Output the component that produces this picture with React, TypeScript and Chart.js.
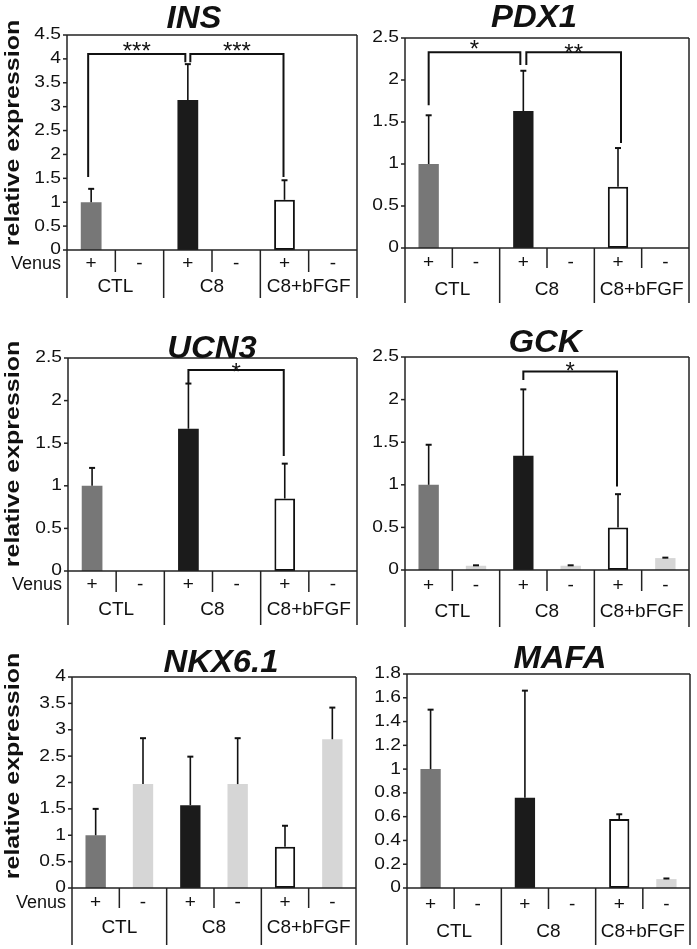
import React, { useEffect, useRef } from 'react';
import { Chart, registerables } from 'chart.js';
Chart.register(...registerables);

const W = 697;
const H = 949;
const FONT = '"Liberation Sans", Arial, Helvetica, sans-serif';
const INK = '#111111';
const LINE = '#222222';

// ---- shared categories ----
const SLOT_KEYS = ['CTL+', 'CTL-', 'C8+', 'C8-', 'bFGF+', 'bFGF-'];
const VENUS_SIGNS = ['+', '-', '+', '-', '+', '-'];
const GROUP_LABELS = ['CTL', 'C8', 'C8+bFGF'];
const BAR_COLORS = ['#777777', '#d6d6d6', '#1b1b1b', '#d6d6d6', '#ffffff', '#d6d6d6'];
const BAR_BORDERS = [0, 0, 0, 0, 2, 0];

// ---- INS ----
const INS_MEAN = [1.0, 0, 3.14, 0, 1.05, 0];
const INS_SD = [0.28, 0, 0.75, 0, 0.41, 0];
const INS_TICKS = ['0', '0.5', '1', '1.5', '2', '2.5', '3', '3.5', '4', '4.5'];

// ---- PDX1 ----
const PDX1_MEAN = [1.0, 0, 1.63, 0, 0.73, 0];
const PDX1_SD = [0.58, 0, 0.48, 0, 0.46, 0];
const PDX1_TICKS = ['0', '0.5', '1', '1.5', '2', '2.5'];

// ---- UCN3 ----
const UCN3_MEAN = [1.0, 0, 1.67, 0, 0.85, 0];
const UCN3_SD = [0.21, 0, 0.53, 0, 0.41, 0];
const UCN3_TICKS = ['0', '0.5', '1', '1.5', '2', '2.5'];

// ---- GCK ----
const GCK_MEAN = [1.0, 0.05, 1.34, 0.05, 0.5, 0.14];
const GCK_SD = [0.47, 0.005, 0.78, 0.005, 0.39, 0.005];
const GCK_TICKS = ['0', '0.5', '1', '1.5', '2', '2.5'];

// ---- NKX6.1 ----
const NKX_MEAN = [1.0, 1.97, 1.57, 1.97, 0.78, 2.82];
const NKX_SD = [0.5, 0.87, 0.92, 0.87, 0.4, 0.6];
const NKX_TICKS = ['0', '0.5', '1', '1.5', '2', '2.5', '3', '3.5', '4'];

// ---- MAFA ----
const MAFA_MEAN = [1.0, 0, 0.76, 0, 0.58, 0.075];
const MAFA_SD = [0.5, 0, 0.9, 0, 0.04, 0.005];
const MAFA_TICKS = ['0', '0.2', '0.4', '0.6', '0.8', '1', '1.2', '1.4', '1.6', '1.8'];

type Bracket = {
  from: number; to: number; level: number; dropFrom: number; dropTo: number;
  offFrom: number; offTo: number; label: string; labelDy: number;
};

const INS_BRACKETS: Bracket[] = [
  { from: 0, to: 2, level: 4.1, dropFrom: 1.53, dropTo: 3.93, offFrom: -3, offTo: -2.5, label: '***', labelDy: -9 },
  { from: 2, to: 4, level: 4.1, dropFrom: 3.93, dropTo: 1.53, offFrom: 2.5, offTo: -1, label: '***', labelDy: -9 },
];
const PDX1_BRACKETS: Bracket[] = [
  { from: 0, to: 2, level: 2.33, dropFrom: 1.7, dropTo: 2.18, offFrom: 0, offTo: -3, label: '*', labelDy: -9 },
  { from: 2, to: 4, level: 2.33, dropFrom: 2.18, dropTo: 1.25, offFrom: 3, offTo: 3, label: '**', labelDy: -5 },
];
const UCN3_BRACKETS: Bracket[] = [
  { from: 2, to: 4, level: 2.36, dropFrom: 2.2, dropTo: 1.35, offFrom: 0, offTo: -1, label: '*', labelDy: -4 },
];
const GCK_BRACKETS: Bracket[] = [
  { from: 2, to: 4, level: 2.33, dropFrom: 2.23, dropTo: 0.98, offFrom: 0, offTo: -1, label: '*', labelDy: -6 },
];

type Panel = {
  title: string; titleX: number; titleY: number;
  left: number; right: number; top: number; bottom: number; max: number;
  ticks: string[]; mean: number[]; sd: number[]; brackets: Bracket[];
  yTitleY: number | null; venusDy: number; groupDy: number; subDepth: number; catDepth: number;
};

const PANELS: Panel[] = [
  { title: 'INS', titleX: 194, titleY: 28, left: 67, right: 357, top: 35, bottom: 250, max: 4.5,
    ticks: INS_TICKS, mean: INS_MEAN, sd: INS_SD, brackets: INS_BRACKETS,
    yTitleY: 133, venusDy: 14, groupDy: 37, subDepth: 22, catDepth: 48 },
  { title: 'PDX1', titleX: 534, titleY: 27, left: 405, right: 689, top: 38, bottom: 248, max: 2.5,
    ticks: PDX1_TICKS, mean: PDX1_MEAN, sd: PDX1_SD, brackets: PDX1_BRACKETS,
    yTitleY: null, venusDy: 15, groupDy: 42, subDepth: 20, catDepth: 55 },
  { title: 'UCN3', titleX: 212, titleY: 358, left: 68, right: 357, top: 358, bottom: 571, max: 2.5,
    ticks: UCN3_TICKS, mean: UCN3_MEAN, sd: UCN3_SD, brackets: UCN3_BRACKETS,
    yTitleY: 454, venusDy: 14, groupDy: 39, subDepth: 21, catDepth: 54 },
  { title: 'GCK', titleX: 545, titleY: 352, left: 405, right: 689, top: 357, bottom: 570, max: 2.5,
    ticks: GCK_TICKS, mean: GCK_MEAN, sd: GCK_SD, brackets: GCK_BRACKETS,
    yTitleY: null, venusDy: 16, groupDy: 42, subDepth: 21, catDepth: 57 },
  { title: 'NKX6.1', titleX: 221, titleY: 672, left: 72, right: 356, top: 677, bottom: 888, max: 4,
    ticks: NKX_TICKS, mean: NKX_MEAN, sd: NKX_SD, brackets: [],
    yTitleY: 766, venusDy: 15, groupDy: 40, subDepth: 20, catDepth: 57 },
  { title: 'MAFA', titleX: 560, titleY: 668, left: 407, right: 690, top: 674, bottom: 888, max: 1.8,
    ticks: MAFA_TICKS, mean: MAFA_MEAN, sd: MAFA_SD, brackets: [],
    yTitleY: null, venusDy: 17, groupDy: 44, subDepth: 21, catDepth: 57 },
];

function drawText(ctx: CanvasRenderingContext2D, s: string, x: number, y: number, font: string,
  align: CanvasTextAlign, baseline: CanvasTextBaseline, sx = 1, rotate = 0) {
  ctx.save();
  ctx.translate(x, y);
  if (rotate) ctx.rotate(rotate);
  ctx.scale(sx, 1);
  ctx.font = font;
  ctx.fillStyle = INK;
  ctx.textAlign = align;
  ctx.textBaseline = baseline;
  ctx.fillText(s, 0, 0);
  ctx.restore();
}

function line(ctx: CanvasRenderingContext2D, x1: number, y1: number, x2: number, y2: number) {
  ctx.beginPath();
  ctx.moveTo(x1, y1);
  ctx.lineTo(x2, y2);
  ctx.stroke();
}

function panelPlugin(p: Panel) {
  return {
    id: 'panelDecor',
    afterDatasetsDraw(chart: any) {
      const ctx: CanvasRenderingContext2D = chart.ctx;
      const xs = chart.scales.x;
      const ys = chart.scales.y;
      const { left, right, top, bottom } = chart.chartArea;
      const slot = (right - left) / SLOT_KEYS.length;
      ctx.save();

      // error bars
      ctx.strokeStyle = INK;
      p.mean.forEach((m, i) => {
        const s = p.sd[i];
        if (!(s > 0)) return;
        const x = xs.getPixelForValue(i);
        const y0 = ys.getPixelForValue(m);
        const y1 = ys.getPixelForValue(m + s);
        ctx.lineWidth = 1.6;
        line(ctx, x, y0, x, y1);
        ctx.lineWidth = 2;
        line(ctx, x - 3, y1, x + 3, y1);
      });

      // frame and category separators
      ctx.strokeStyle = LINE;
      ctx.lineWidth = 1.5;
      line(ctx, left, top, right, top);
      line(ctx, left, bottom, right, bottom);
      line(ctx, left, top, left, bottom + p.catDepth);
      line(ctx, right, top, right, bottom + p.catDepth);
      [2, 4].forEach((k) => line(ctx, left + k * slot, bottom, left + k * slot, bottom + p.catDepth));
      [1, 3, 5].forEach((k) => line(ctx, left + k * slot, bottom, left + k * slot, bottom + p.subDepth));

      // y ticks
      p.ticks.forEach((t) => {
        const v = parseFloat(t);
        const y = ys.getPixelForValue(v);
        line(ctx, left - 4, y, left, y);
        drawText(ctx, t, left - 6, y, `16px ${FONT}`, 'right', 'middle', 1.2);
      });

      // category labels
      VENUS_SIGNS.forEach((s, i) => {
        drawText(ctx, s, xs.getPixelForValue(i), bottom + p.venusDy, `19px ${FONT}`, 'center', 'middle');
      });
      GROUP_LABELS.forEach((g, k) => {
        drawText(ctx, g, left + (2 * k + 1) * slot, bottom + p.groupDy, `19px ${FONT}`, 'center', 'middle', 1.0);
      });
      if (p.yTitleY !== null) {
        drawText(ctx, 'Venus', left - 6, bottom + p.venusDy, `18px ${FONT}`, 'right', 'middle');
        drawText(ctx, 'relative expression', 19, p.yTitleY, `bold 20px ${FONT}`, 'center', 'alphabetic', 1.25, -Math.PI / 2);
      }

      // significance brackets
      ctx.strokeStyle = INK;
      ctx.lineWidth = 2;
      p.brackets.forEach((b) => {
        const x1 = xs.getPixelForValue(b.from) + b.offFrom;
        const x2 = xs.getPixelForValue(b.to) + b.offTo;
        const yl = ys.getPixelForValue(b.level);
        ctx.beginPath();
        ctx.moveTo(x1, ys.getPixelForValue(b.dropFrom));
        ctx.lineTo(x1, yl);
        ctx.lineTo(x2, yl);
        ctx.lineTo(x2, ys.getPixelForValue(b.dropTo));
        ctx.stroke();
        drawText(ctx, b.label, (x1 + x2) / 2, yl + b.labelDy + 13.8, `24px ${FONT}`, 'center', 'alphabetic');
      });

      // title
      drawText(ctx, p.title, p.titleX, p.titleY, `italic bold 31px ${FONT}`, 'center', 'alphabetic', 1.06);
      ctx.restore();
    },
  };
}

function PanelChart({ p }: { p: Panel }) {
  const ref = useRef<HTMLCanvasElement>(null);
  useEffect(() => {
    if (!ref.current) return;
    const chart = new Chart(ref.current, {
      type: 'bar',
      data: {
        labels: SLOT_KEYS,
        datasets: [{
          data: p.mean,
          backgroundColor: BAR_COLORS,
          borderColor: '#111111',
          borderWidth: BAR_BORDERS,
          borderSkipped: false,
          barPercentage: 0.43,
          categoryPercentage: 1,
        }],
      },
      options: {
        responsive: false,
        animation: false,
        devicePixelRatio: 1,
        events: [],
        layout: { padding: { left: p.left, top: p.top, right: W - p.right, bottom: H - p.bottom } },
        scales: {
          x: { display: false, offset: true },
          y: { display: false, min: 0, max: p.max },
        },
        plugins: { legend: { display: false }, tooltip: { enabled: false }, title: { display: false } },
      } as any,
      plugins: [panelPlugin(p)],
    });
    return () => chart.destroy();
  }, [p]);
  return (
    <canvas ref={ref} width={W} height={H}
      style={{ position: 'absolute', left: 0, top: 0, width: W, height: H }} />
  );
}

export default function App() {
  return (
    <div style={{ position: 'absolute', left: 0, top: 0, width: W, height: H, background: '#ffffff', overflow: 'hidden' }}>
      {PANELS.map((p) => <PanelChart key={p.title} p={p} />)}
    </div>
  );
}
